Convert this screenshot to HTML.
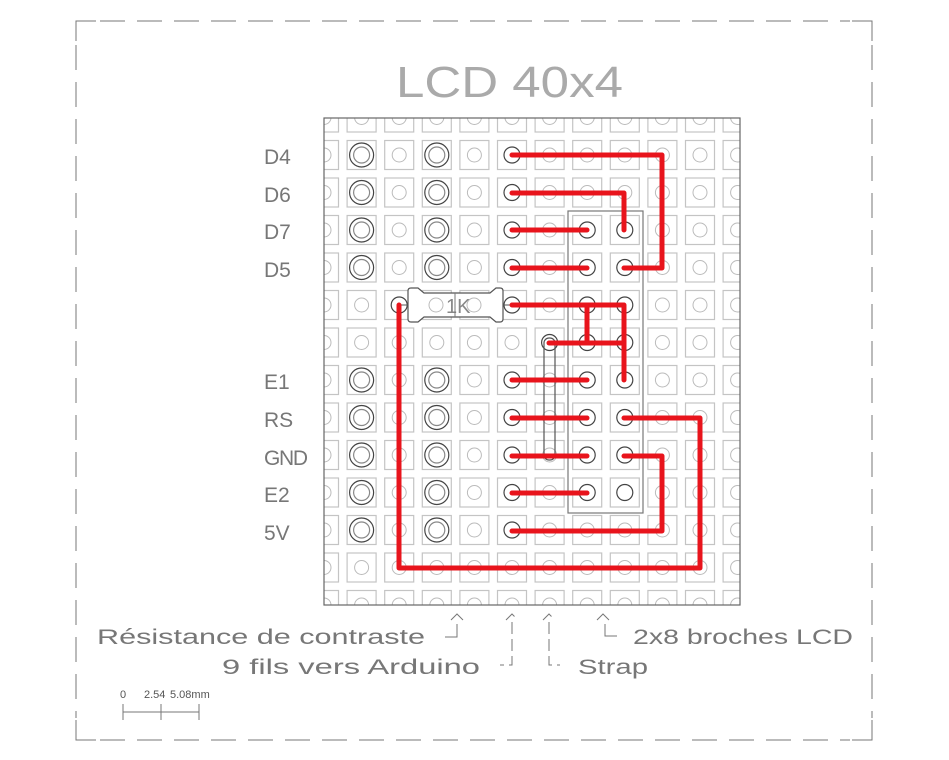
<!DOCTYPE html>
<html><head><meta charset="utf-8"><style>html,body{margin:0;padding:0;background:#fff}svg{display:block}</style></head>
<body>
<svg id="s" width="949" height="760" viewBox="0 0 949 760" xmlns="http://www.w3.org/2000/svg" font-family="Liberation Sans, sans-serif">
<defs><clipPath id="bc"><rect x="324" y="118" width="416" height="487"/></clipPath></defs>
<g id="grid" clip-path="url(#bc)"></g>
<rect x="324" y="118" width="416" height="487" fill="none" stroke="#666" stroke-width="1.2"/>
<g stroke="#777" stroke-width="1" fill="none">
<path d="M76 41 V21 H96 M852 21 H872 V41 M872 720 V740 H852 M96 740 H76 V720"/>
<path d="M100 21 H850 M100 740 H850 M76 45 V718 M872 45 V718" stroke-dasharray="25 12"/>
</g>
<text x="396" y="97" font-size="44" fill="#aaa" textLength="227" lengthAdjust="spacingAndGlyphs">LCD 40x4</text>
<g id="fg"></g>
<rect x="568" y="211" width="75" height="302" fill="none" stroke="#777" stroke-width="1.2"/>
<rect x="544" y="338" width="11" height="122" rx="5" fill="none" stroke="#555" stroke-width="1.2"/>
<path d="M408 296 V291 Q408 288 411 288 H418 L424 293 H490 L496 288 H500 Q503 288 503 291 V319 Q503 322 500 322 H496 L490 317 H424 L418 322 H411 Q408 322 408 319 Z" fill="#fff" stroke="#555" stroke-width="1.2"/>
<line x1="399" y1="305" x2="408" y2="305" stroke="#555"/><line x1="503" y1="305" x2="512" y2="305" stroke="#555"/>
<circle cx="436" cy="305" r="7" fill="none" stroke="#bbb"/><circle cx="474" cy="305" r="7" fill="none" stroke="#bbb"/>
<text x="446" y="313" font-size="20" fill="#888">1K</text>
<line x1="455" y1="293" x2="455" y2="317" stroke="#777"/>
<g id="wires" stroke="#e8141c" stroke-width="5" fill="none" stroke-linejoin="round" stroke-linecap="round">
<path d="M512 155 H662 V268 H624"/>
<path d="M512 193 H624 V230"/>
<path d="M512 230 H587"/>
<path d="M512 268 H587"/>
<path d="M512 305 H624 V380"/>
<path d="M587 305 V343"/>
<path d="M549 343 H624"/>
<path d="M512 380 H587"/>
<path d="M512 418 H587"/>
<path d="M624 418 H700 V568 H399 V305"/>
<path d="M512 456 H587"/>
<path d="M624 456 H662 V531 H512"/>
<path d="M512 493 H587"/>
</g>
<g font-size="21" fill="#777">
<text x="264" y="164">D4</text><text x="264" y="202">D6</text><text x="264" y="239">D7</text><text x="264" y="277">D5</text>
<text x="264" y="389">E1</text><text x="264" y="427">RS</text><text x="264" y="465" textLength="44">GND</text><text x="264" y="502">E2</text><text x="264" y="540">5V</text>
</g>
<g stroke="#777" fill="none" stroke-width="1">
<path d="M451 620 L457 614 L463 620 M457 624 V637 H445"/>
<path d="M506 620 L512 614 L518 620 M512 622 V665 H500" stroke-dasharray="12 5"/>
<path d="M543 620 L549 614 L555 620 M549 622 V665 H560" stroke-dasharray="12 5"/>
<path d="M597 620 L603 614 L609 620 M605 624 V636 H617"/>
<path d="M123 704 V720 M161 704 V720 M199 704 V720 M123 712 H199"/>
</g>
<g font-size="21" fill="#777">
<text x="97" y="644" textLength="328" lengthAdjust="spacingAndGlyphs">Résistance de contraste</text>
<text x="222" y="674" textLength="258" lengthAdjust="spacingAndGlyphs">9 fils vers Arduino</text>
<text x="578" y="674" textLength="70" lengthAdjust="spacingAndGlyphs">Strap</text>
<text x="633" y="644" textLength="220" lengthAdjust="spacingAndGlyphs">2x8 broches LCD</text>
</g>
<g font-size="11" fill="#555"><text x="120" y="698">0</text><text x="144" y="698">2.54</text><text x="170" y="698">5.08mm</text></g>
</svg>
<script>
var NS="http://www.w3.org/2000/svg";
function el(p,t,a){var e=document.createElementNS(NS,t);for(var k in a)e.setAttribute(k,a[k]);p.appendChild(e);return e;}
var g=document.getElementById('grid'),fg=document.getElementById('fg');
var cols=[],rows=[];
for(var i=0;i<12;i++)cols.push(324+37.6*i);
for(var j=0;j<14;j++)rows.push(117.5+37.5*j);
var big={},dark={};
[1,2,3,4,7,8,9,10,11].forEach(function(r){big[r+','+1]=1;big[r+','+3]=1;dark[r+','+5]=1;});
[3,4,5,6,7,8,9,10].forEach(function(r){dark[r+','+7]=1;dark[r+','+8]=1;});
dark['6,6']=1;dark['5,5']=1;dark['5,2']=1;
for(var r=0;r<14;r++)for(var c=0;c<12;c++){
 var x=cols[c],y=rows[r];
 el(g,'rect',{x:x-14.5,y:y-14.5,width:29,height:29,fill:'none',stroke:'#c4c4c4','stroke-width':1.2});
 var k=r+','+c;
 if(big[k]){el(fg,'circle',{cx:x,cy:y,r:12,fill:'none',stroke:'#444','stroke-width':1.2});el(fg,'circle',{cx:x,cy:y,r:8,fill:'none',stroke:'#888','stroke-width':1.2});}
 else if(dark[k]){el(fg,'circle',{cx:x,cy:y,r:8,fill:'none',stroke:'#444','stroke-width':1.2});}
 else el(g,'circle',{cx:x,cy:y,r:7,fill:'none',stroke:'#bbb','stroke-width':1});
}
</script>
</body></html>
